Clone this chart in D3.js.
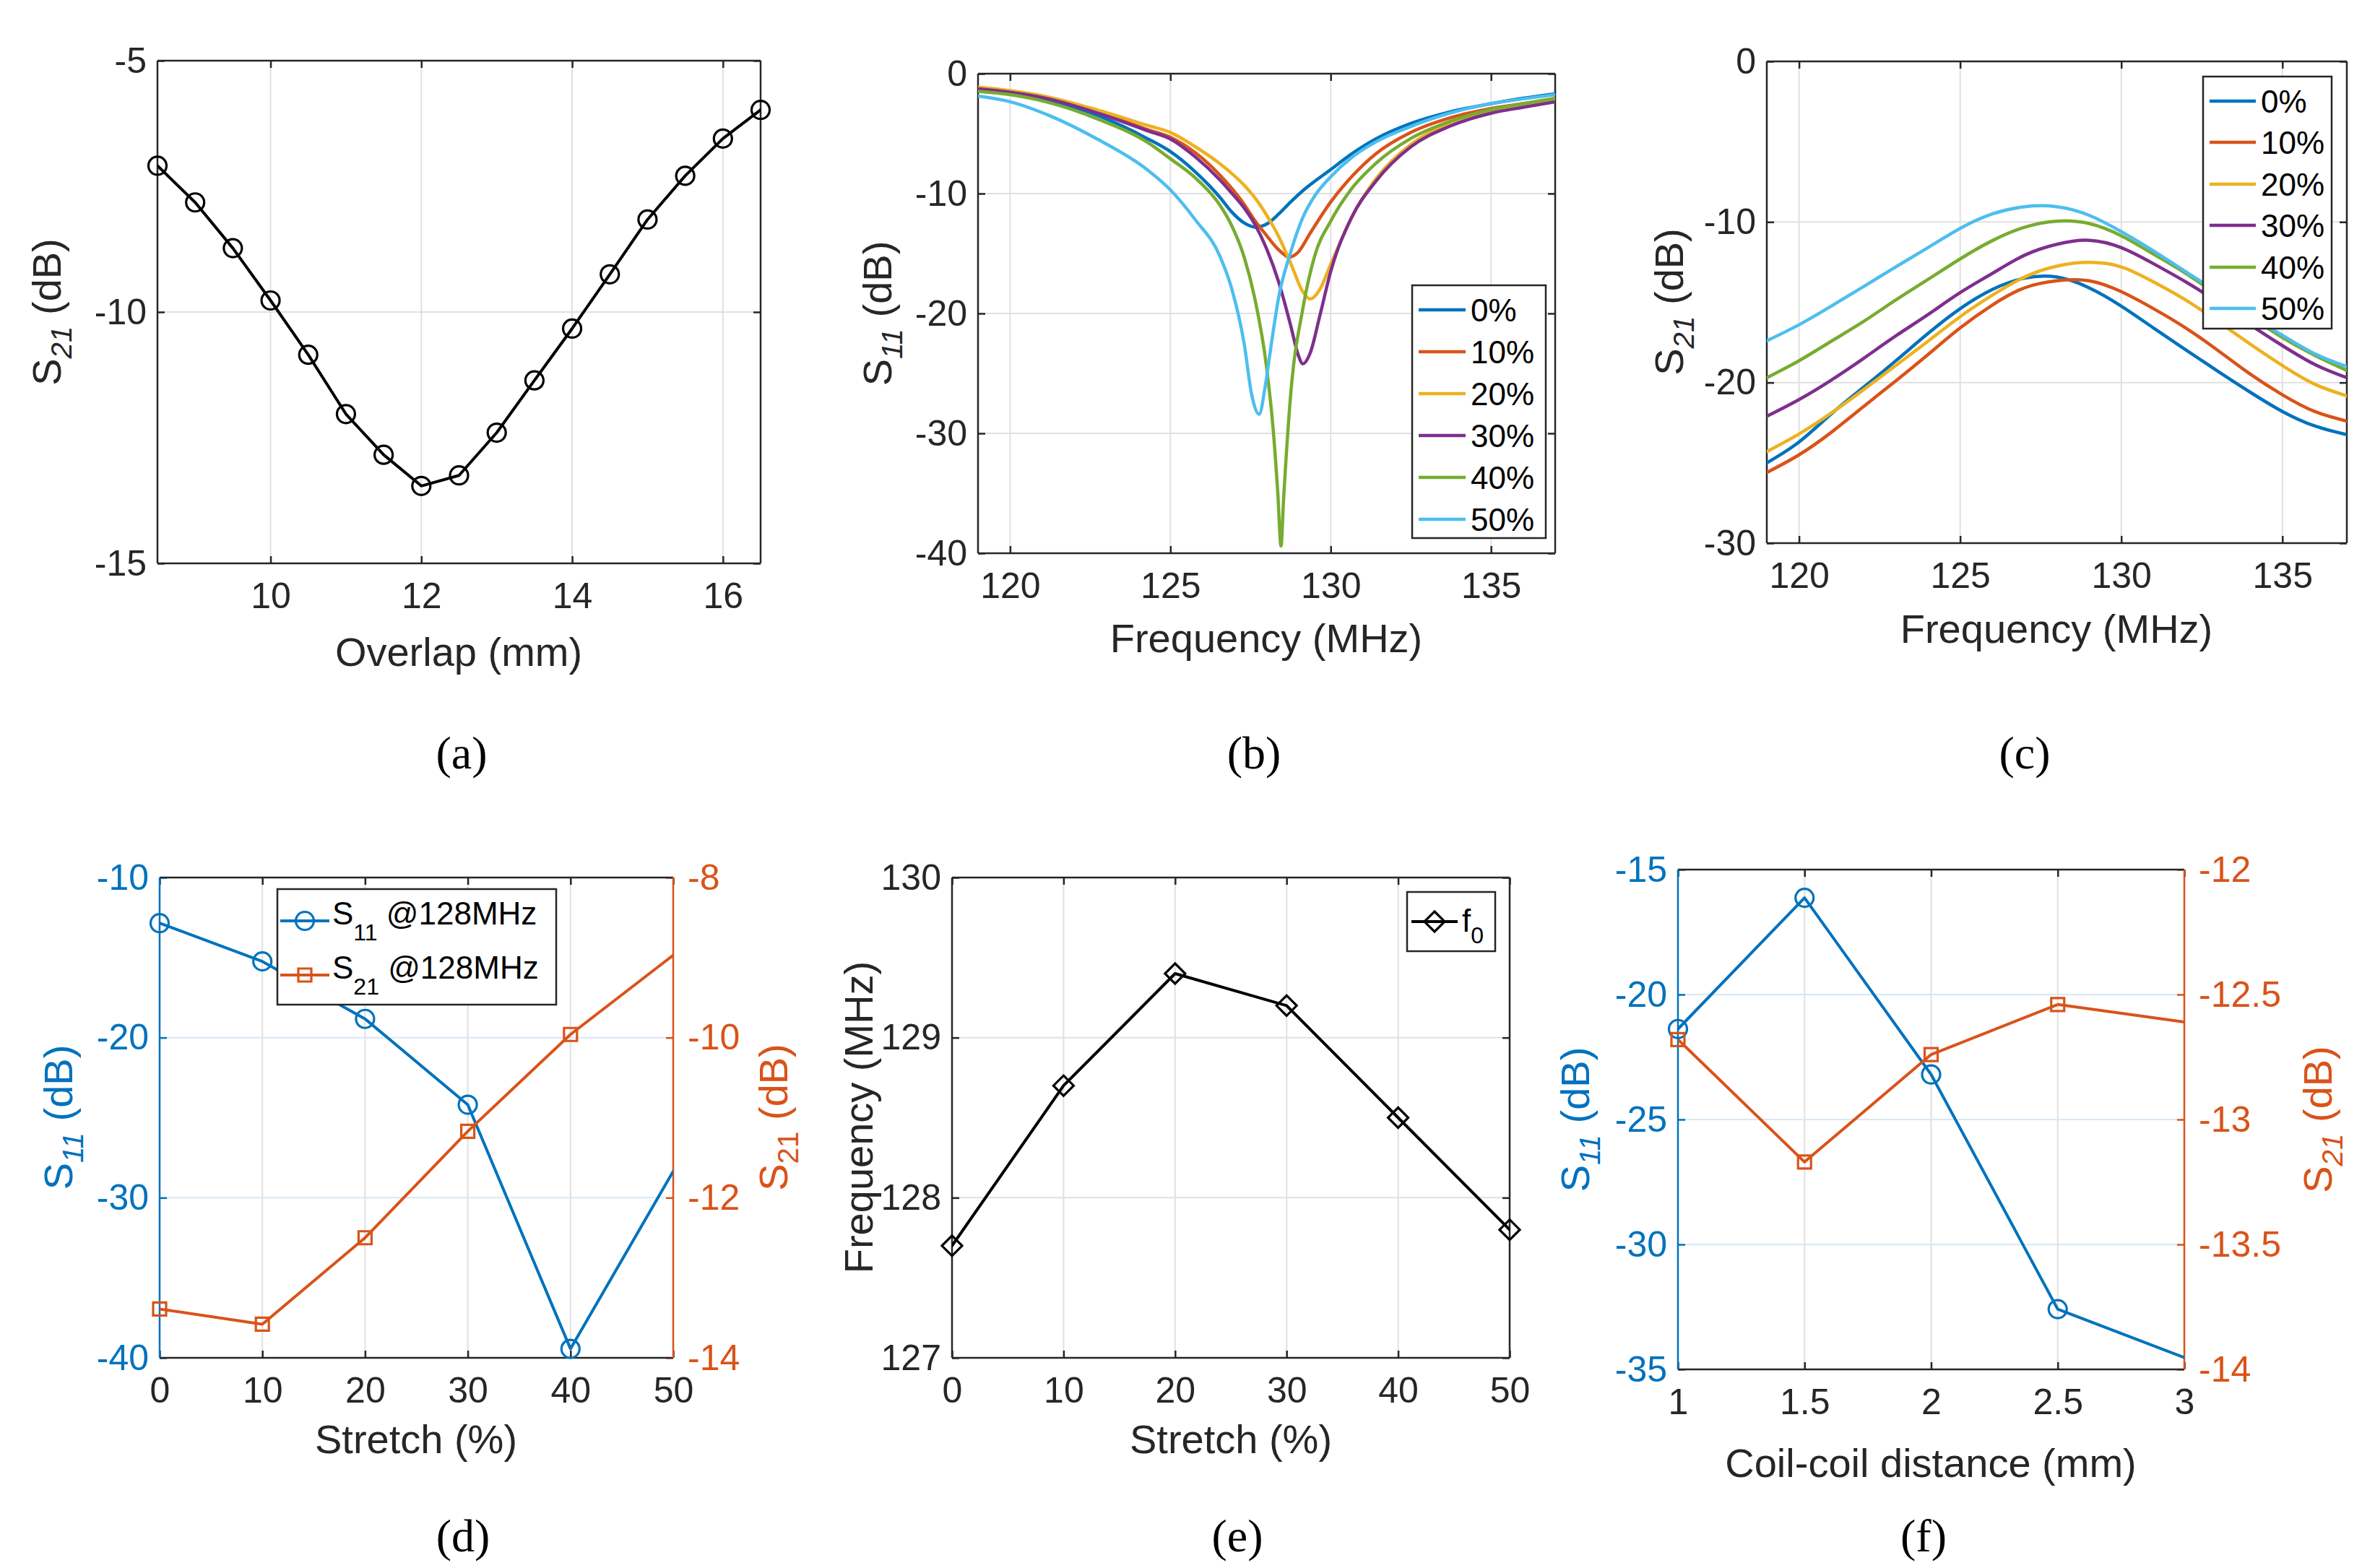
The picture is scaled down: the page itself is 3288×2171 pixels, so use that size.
<!DOCTYPE html>
<html><head><meta charset="utf-8">
<script src="https://cdn.jsdelivr.net/npm/d3@7"></script>
<style>html,body{margin:0;padding:0;background:#fff}svg{display:block}</style>
</head><body>
<svg id="chart" width="3288" height="2171" xmlns="http://www.w3.org/2000/svg"></svg>
<script>
// ================= DATA =================
// (a) S21 vs overlap
const overlapMm = [8.5, 9, 9.5, 10, 10.5, 11, 11.5, 12, 12.5, 13, 13.5, 14, 14.5, 15, 15.5, 16, 16.5];
const s21Overlap = [-7.09, -7.82, -8.73, -9.77, -10.85, -12.03, -12.84, -13.46, -13.25, -12.40, -11.36, -10.33, -9.25, -8.16, -7.29, -6.55, -5.98];

// shared legend labels / colours for (b), (c)
const stretchLabels = ["0%", "10%", "20%", "30%", "40%", "50%"];
const seriesColors = ["#0072BD", "#D95319", "#EDB120", "#7E2F8E", "#77AC30", "#4DBEEE"];

// (b) S11 vs frequency, one frequency list per stretch level
const s11Freq0  = [119, 120, 121.2, 122.75, 124.27, 125, 125.78, 126.54, 126.9, 127.3, 127.65, 128.0, 128.38, 128.75, 129.13, 130, 130.65, 131.4, 132.5, 133.7, 135, 136, 137];
const s11Val0   = [-1.26, -1.6, -2.2, -3.5, -5.4, -6.5, -8.2, -10.3, -11.5, -12.45, -12.8, -12.55, -11.7, -10.7, -9.76, -8.0, -6.7, -5.45, -4.15, -3.2, -2.5, -2.05, -1.68];
const s11Freq10 = [119, 120, 121.2, 122.75, 124.27, 125, 125.78, 126.54, 126.86, 127.3, 127.62, 128.0, 128.38, 128.7, 128.98, 129.36, 130, 130.65, 131.4, 132.5, 133.7, 135, 136, 137];
const s11Val10  = [-1.16, -1.45, -2.0, -3.2, -4.65, -5.3, -6.6, -8.45, -9.4, -10.9, -12.2, -13.5, -14.7, -15.3, -14.9, -13.3, -10.7, -8.6, -6.7, -4.9, -3.7, -2.9, -2.5, -2.13];
const s11Freq20 = [119, 120, 121.2, 122.75, 124.27, 125, 125.78, 126.54, 126.86, 127.3, 127.62, 128.0, 128.38, 128.75, 129.13, 129.36, 129.66, 130, 130.65, 131.4, 132.5, 133.7, 135, 136, 137];
const s11Val20  = [-1.13, -1.42, -1.95, -3.05, -4.3, -4.9, -6.1, -7.5, -8.2, -9.3, -10.3, -11.8, -13.6, -15.8, -18.2, -18.8, -18.0, -15.9, -12.0, -8.8, -5.9, -4.2, -3.2, -2.7, -2.26];
const s11Freq30 = [119, 120, 121.2, 122.75, 124.27, 125, 125.78, 126.54, 126.86, 127.3, 127.62, 128.0, 128.38, 128.75, 128.98, 129.13, 129.36, 129.66, 130, 130.65, 131.4, 132.5, 133.7, 135, 136, 137];
const s11Val30  = [-1.26, -1.55, -2.1, -3.3, -4.75, -5.45, -6.95, -8.85, -9.8, -11.2, -12.5, -14.6, -17.4, -21.0, -23.4, -24.2, -23.3, -20.2, -16.5, -12.0, -9.0, -6.1, -4.4, -3.3, -2.8, -2.34];
const s11Freq40 = [119, 120, 121.2, 122.75, 124.27, 125, 125.78, 126.54, 126.86, 127.3, 127.62, 128.0, 128.2, 128.35, 128.45, 128.53, 128.75, 129.13, 129.5, 130, 130.65, 131.4, 132.5, 133.7, 135, 136, 137];
const s11Val40  = [-1.47, -1.75, -2.4, -3.8, -5.7, -7.1, -8.7, -10.95, -12.4, -15.3, -18.6, -24.5, -29.5, -35.0, -39.4, -35.5, -26.8, -19.6, -15.2, -12.3, -9.6, -7.5, -5.4, -4.0, -3.0, -2.5, -2.05];
const s11Freq50 = [119, 120, 121.23, 122.75, 124.27, 125, 125.78, 126.54, 126.92, 127.3, 127.53, 127.77, 127.95, 128.15, 128.38, 128.75, 129.13, 129.5, 130, 130.65, 131.4, 132.5, 133.7, 135, 136, 137];
const s11Val50  = [-1.87, -2.34, -3.5, -5.5, -8.0, -9.7, -12.2, -15.2, -18.0, -22.5, -26.7, -28.4, -26.2, -22.5, -18.6, -14.9, -12.0, -10.2, -8.6, -7.0, -5.7, -4.4, -3.3, -2.5, -2.1, -1.74];

// (c) S21 vs frequency, shared frequency grid
const s21Freq   = [119, 120, 121, 122, 123, 124, 125, 126, 127, 128, 129, 130, 131, 132, 133, 134, 135, 136, 137];
const s21Val0   = [-25.0, -23.7, -21.95, -20.3, -18.65, -16.95, -15.4, -14.2, -13.5, -13.43, -14.1, -15.24, -16.6, -17.96, -19.3, -20.6, -21.8, -22.7, -23.25];
const s21Val10  = [-25.6, -24.5, -23.1, -21.5, -19.9, -18.26, -16.6, -15.17, -14.1, -13.66, -13.66, -14.34, -15.4, -16.6, -18.0, -19.47, -20.76, -21.8, -22.4];
const s21Val20  = [-24.3, -23.2, -21.9, -20.45, -18.94, -17.43, -15.9, -14.56, -13.43, -12.75, -12.52, -12.8, -13.73, -14.86, -16.2, -17.6, -18.94, -20.1, -20.83];
const s21Val30  = [-22.1, -21.06, -19.85, -18.5, -17.1, -15.77, -14.4, -13.2, -12.07, -11.39, -11.14, -11.6, -12.6, -13.73, -15.0, -16.4, -17.7, -18.87, -19.7];
const s21Val40  = [-19.7, -18.64, -17.43, -16.2, -14.86, -13.58, -12.3, -11.16, -10.33, -9.95, -10.1, -10.86, -12.0, -13.2, -14.56, -15.9, -17.2, -18.3, -19.25];
const s21Val50  = [-17.4, -16.4, -15.24, -14.03, -12.8, -11.6, -10.4, -9.5, -9.05, -9.05, -9.58, -10.6, -11.8, -13.1, -14.4, -15.8, -17.05, -18.2, -19.0];

// (d) S11 / S21 at 128 MHz vs stretch
const stretchPct = [0, 10, 20, 30, 40, 50];
const s11At128 = [-12.85, -15.24, -18.83, -24.19, -39.44, -28.35];
const s21At128 = [-13.39, -13.58, -12.5, -11.17, -9.96, -8.97];
const s11At128Markers = [0, 1, 2, 3, 4];
const s21At128Markers = [0, 1, 2, 3, 4];

// (e) resonance frequency vs stretch
const f0Stretch = [127.7, 128.7, 129.4, 129.2, 128.5, 127.8];

// (f) S11 / S21 vs coil-coil distance
const coilDist = [1, 1.5, 2, 2.5, 3];
const s11Dist = [-21.38, -16.13, -23.2, -32.59, -34.53];
const s21Dist = [-12.68, -13.17, -12.74, -12.54, -12.61];
const distMarkers = [0, 1, 2, 3];

// tick values
const ticksAX = [10, 12, 14, 16], ticksAY = [-15, -10, -5];
const ticksFreq = [120, 125, 130, 135];
const ticksBY = [-40, -30, -20, -10, 0], ticksCY = [-30, -20, -10, 0];
const ticksStretch = [0, 10, 20, 30, 40, 50];
const ticksDL = [-40, -30, -20, -10], ticksDR = [-14, -12, -10, -8];
const ticksEY = [127, 128, 129, 130];
const ticksFX = [1, 1.5, 2, 2.5, 3], ticksFL = [-35, -30, -25, -20, -15], ticksFR = [-14, -13.5, -13, -12.5, -12];

// ================= DRAWING =================
const svg = d3.select("#chart");
const FONT = "'Liberation Sans', Arial, Helvetica, sans-serif";
const SERIF = "'Liberation Serif', 'Times New Roman', serif";
const AX = "#262626", GRID = "#e0e0e0", GRIDB = "#d9e8f4";
const BLUE = "#0072BD", ORANGE = "#D95319";
const TICK = 10, TICKFS = 50, LABFS = 56, LEGFS = 44;
const fmt = d => String(d);

let clipId = 0;
function panel(cfg) {
  const {L, R, T, B} = cfg.box;
  const x = d3.scaleLinear().domain(cfg.xDomain).range([L, R]);
  const y = d3.scaleLinear().domain(cfg.yDomain).range([B, T]);
  const y2 = cfg.y2Domain ? d3.scaleLinear().domain(cfg.y2Domain).range([B, T]) : null;
  const g = svg.append("g");
  const id = "clip" + (clipId++);
  g.append("clipPath").attr("id", id).append("rect").attr("x", L).attr("y", T).attr("width", R - L).attr("height", B - T);

  g.append("g").selectAll("line").data(cfg.xTicks).join("line")
    .attr("x1", d => x(d)).attr("x2", d => x(d)).attr("y1", T).attr("y2", B)
    .attr("stroke", GRID).attr("stroke-width", 2);
  g.append("g").selectAll("line").data(cfg.yTicks).join("line")
    .attr("y1", d => y(d)).attr("y2", d => y(d)).attr("x1", L).attr("x2", R)
    .attr("stroke", y2 ? GRIDB : GRID).attr("stroke-width", 2);

  const styleAxis = (sel, color) => {
    sel.attr("font-size", TICKFS).attr("font-family", FONT).attr("color", color);
    sel.select(".domain").remove();
    sel.selectAll("line").attr("stroke-width", 2.5);
  };
  const yColor = cfg.yColor || AX;
  g.append("g").attr("transform", `translate(0,${B})`)
    .call(d3.axisBottom(x).tickValues(cfg.xTicks).tickSizeInner(-TICK).tickSizeOuter(0).tickPadding(26).tickFormat(fmt))
    .call(s => styleAxis(s, AX));
  g.append("g").attr("transform", `translate(0,${T})`)
    .call(d3.axisTop(x).tickValues(cfg.xTicks).tickSizeInner(-TICK).tickSizeOuter(0).tickFormat(""))
    .call(s => styleAxis(s, AX));
  g.append("g").attr("transform", `translate(${L},0)`)
    .call(d3.axisLeft(y).tickValues(cfg.yTicks).tickSizeInner(-TICK).tickSizeOuter(0).tickPadding(15).tickFormat(fmt))
    .call(s => styleAxis(s, yColor));
  if (y2) {
    g.append("g").attr("transform", `translate(${R},0)`)
      .call(d3.axisRight(y2).tickValues(cfg.y2Ticks).tickSizeInner(-TICK).tickSizeOuter(0).tickPadding(20).tickFormat(fmt))
      .call(s => styleAxis(s, ORANGE));
  } else {
    g.append("g").attr("transform", `translate(${R},0)`)
      .call(d3.axisRight(y).tickValues(cfg.yTicks).tickSizeInner(-TICK).tickSizeOuter(0).tickFormat(""))
      .call(s => styleAxis(s, AX));
  }
  const fr = g.append("g").attr("stroke-width", 2.5).attr("fill", "none");
  fr.append("line").attr("x1", L).attr("x2", R).attr("y1", T).attr("y2", T).attr("stroke", AX);
  fr.append("line").attr("x1", L).attr("x2", R).attr("y1", B).attr("y2", B).attr("stroke", AX);
  fr.append("line").attr("x1", L).attr("x2", L).attr("y1", T).attr("y2", B).attr("stroke", yColor);
  fr.append("line").attr("x1", R).attr("x2", R).attr("y1", T).attr("y2", B).attr("stroke", y2 ? ORANGE : AX);

  const plot = g.append("g").attr("clip-path", `url(#${id})`);
  const over = g.append("g");
  return {g, plot, over, x, y, y2, box: cfg.box};
}

function richText(sel, parts, fs) {
  let shift = 0;
  parts.forEach(p => {
    const target = p.sub ? fs * 0.26 : 0;
    sel.append("tspan").attr("dy", target - shift)
      .attr("font-size", p.sub ? fs * 0.72 : fs)
      .attr("font-style", p.italic ? "italic" : "normal").text(p.t);
    shift = target;
  });
}

function yLabel(x, yc, parts, color) {
  const t = svg.append("text").attr("transform", `translate(${x},${yc}) rotate(-90)`)
    .attr("text-anchor", "middle").attr("font-family", FONT).attr("font-size", LABFS)
    .attr("fill", color || AX);
  richText(t, parts, LABFS);
}
function xLabel(xc, y, txt) {
  svg.append("text").attr("x", xc).attr("y", y).attr("text-anchor", "middle")
    .attr("font-family", FONT).attr("font-size", LABFS).attr("fill", AX).text(txt);
}
function caption(xc, y, txt) {
  svg.append("text").attr("x", xc).attr("y", y).attr("text-anchor", "middle")
    .attr("font-family", SERIF).attr("font-size", 64).attr("fill", "#000").text(txt);
}
const S = sub => [{t: "S"}, {t: sub, sub: true, italic: true}, {t: " (dB)"}];

function drawLine(P, xs, ys, color, width, curve, ysc) {
  const yy = ysc || P.y;
  const pts = xs.map((v, i) => [v, ys[i]]);
  P.plot.append("path").datum(pts)
    .attr("d", d3.line().x(d => P.x(d[0])).y(d => yy(d[1])).curve(curve || d3.curveLinear))
    .attr("fill", "none").attr("stroke", color).attr("stroke-width", width)
    .attr("stroke-linejoin", "round").attr("stroke-linecap", "round");
}
function markerPath(shape) {
  if (shape === "circle") return d3.symbol().type(d3.symbolCircle).size(Math.PI * 12.5 * 12.5)();
  if (shape === "square") return "M-9,-9H9V9H-9Z";
  return "M0,-14L14,0L0,14L-14,0Z";
}
function drawMarkers(P, xs, ys, idx, shape, color, ysc) {
  const yy = ysc || P.y;
  P.over.append("g").selectAll("path").data(idx).join("path")
    .attr("transform", i => `translate(${P.x(xs[i])},${yy(ys[i])})`)
    .attr("d", markerPath(shape)).attr("fill", "none").attr("stroke", color).attr("stroke-width", 3.2);
}

function lineLegend(box, rowY, lineX0, lineX1, textX, labels, colors) {
  const g = svg.append("g");
  g.append("rect").attr("x", box[0]).attr("y", box[1]).attr("width", box[2] - box[0]).attr("height", box[3] - box[1])
    .attr("fill", "#fff").attr("stroke", AX).attr("stroke-width", 2.5);
  labels.forEach((lab, i) => {
    const yy = rowY[i];
    g.append("line").attr("x1", lineX0).attr("x2", lineX1).attr("y1", yy).attr("y2", yy)
      .attr("stroke", colors[i]).attr("stroke-width", 4.5);
    g.append("text").attr("x", textX).attr("y", yy + 16).attr("font-family", FONT)
      .attr("font-size", LEGFS).attr("fill", "#000").text(lab);
  });
}

// ---------- (a) ----------
{
  const P = panel({box: {L: 218, R: 1053, T: 84, B: 780}, xDomain: [8.5, 16.5], yDomain: [-15, -5],
    xTicks: ticksAX, yTicks: ticksAY});
  drawLine(P, overlapMm, s21Overlap, "#000", 4);
  drawMarkers(P, overlapMm, s21Overlap, d3.range(overlapMm.length), "circle", "#000");
  yLabel(84, 432, S("21"));
  xLabel(635, 922, "Overlap (mm)");
  caption(639, 1064, "(a)");
}

// ---------- (b) ----------
{
  const P = panel({box: {L: 1354, R: 2153, T: 102, B: 766}, xDomain: [119, 137], yDomain: [-40, 0],
    xTicks: ticksFreq, yTicks: ticksBY});
  const fr = [s11Freq0, s11Freq10, s11Freq20, s11Freq30, s11Freq40, s11Freq50];
  const vl = [s11Val0, s11Val10, s11Val20, s11Val30, s11Val40, s11Val50];
  fr.forEach((f, i) => drawLine(P, f, vl[i], seriesColors[i], 4.5, d3.curveMonotoneX));
  lineLegend([1955, 395, 2140, 745], [429, 487, 545, 603, 661, 719], 1964, 2029, 2036, stretchLabels, seriesColors);
  yLabel(1234, 434, S("11"));
  xLabel(1753, 903, "Frequency (MHz)");
  caption(1736, 1064, "(b)");
}

// ---------- (c) ----------
{
  const P = panel({box: {L: 2446, R: 3249, T: 85, B: 752}, xDomain: [119, 137], yDomain: [-30, 0],
    xTicks: ticksFreq, yTicks: ticksCY});
  const vl = [s21Val0, s21Val10, s21Val20, s21Val30, s21Val40, s21Val50];
  vl.forEach((v, i) => drawLine(P, s21Freq, v, seriesColors[i], 4.5, d3.curveNatural));
  lineLegend([3050, 106, 3228, 455], [140, 197, 255, 312, 370, 427], 3059, 3123, 3130, stretchLabels, seriesColors);
  yLabel(2330, 418, S("21"));
  xLabel(2847, 890, "Frequency (MHz)");
  caption(2803, 1064, "(c)");
}

// ---------- (d) ----------
{
  const P = panel({box: {L: 221, R: 932, T: 1215, B: 1880}, xDomain: [0, 50], yDomain: [-40, -10],
    xTicks: ticksStretch, yTicks: ticksDL, yColor: BLUE, y2Domain: [-14, -8], y2Ticks: ticksDR});
  drawLine(P, stretchPct, s11At128, BLUE, 4);
  drawLine(P, stretchPct, s21At128, ORANGE, 4, null, P.y2);
  drawMarkers(P, stretchPct, s11At128, s11At128Markers, "circle", BLUE);
  drawMarkers(P, stretchPct, s21At128, s21At128Markers, "square", ORANGE, P.y2);
  const g = svg.append("g");
  g.append("rect").attr("x", 384).attr("y", 1231).attr("width", 386).attr("height", 160)
    .attr("fill", "#fff").attr("stroke", AX).attr("stroke-width", 2.5);
  const rows = [{y: 1275, c: BLUE, sub: "11", m: "circle"}, {y: 1350, c: ORANGE, sub: "21", m: "square"}];
  rows.forEach(r => {
    g.append("line").attr("x1", 388).attr("x2", 456).attr("y1", r.y).attr("y2", r.y).attr("stroke", r.c).attr("stroke-width", 4);
    g.append("path").attr("transform", `translate(422,${r.y})`).attr("d", markerPath(r.m))
      .attr("fill", "none").attr("stroke", r.c).attr("stroke-width", 3.2);
    const t = g.append("text").attr("x", 460).attr("y", r.y + 5).attr("font-family", FONT).attr("fill", "#000");
    t.append("tspan").attr("font-size", LEGFS).text("S");
    t.append("tspan").attr("font-size", 32).attr("dy", 22).text(r.sub);
    t.append("tspan").attr("font-size", LEGFS).attr("dy", -22).text(" @128MHz");
  });
  yLabel(100, 1547, S("11"), BLUE);
  yLabel(1090, 1547, [{t: "S"}, {t: "21", sub: true}, {t: " (dB)"}], ORANGE);
  xLabel(576, 2012, "Stretch (%)");
  caption(641, 2148, "(d)");
}

// ---------- (e) ----------
{
  const P = panel({box: {L: 1318, R: 2090, T: 1215, B: 1880}, xDomain: [0, 50], yDomain: [127, 130],
    xTicks: ticksStretch, yTicks: ticksEY});
  drawLine(P, stretchPct, f0Stretch, "#000", 4);
  drawMarkers(P, stretchPct, f0Stretch, d3.range(stretchPct.length), "diamond", "#000");
  const g = svg.append("g");
  g.append("rect").attr("x", 1948).attr("y", 1235).attr("width", 122).attr("height", 82)
    .attr("fill", "#fff").attr("stroke", AX).attr("stroke-width", 2.5);
  g.append("line").attr("x1", 1954).attr("x2", 2018).attr("y1", 1276).attr("y2", 1276).attr("stroke", "#000").attr("stroke-width", 4);
  g.append("path").attr("transform", "translate(1986,1276)").attr("d", markerPath("diamond"))
    .attr("fill", "none").attr("stroke", "#000").attr("stroke-width", 3.2);
  const t = g.append("text").attr("x", 2024).attr("y", 1290).attr("font-family", FONT).attr("fill", "#000");
  t.append("tspan").attr("font-size", LEGFS).text("f");
  t.append("tspan").attr("font-size", 32).attr("dy", 16).text("0");
  yLabel(1208, 1547, [{t: "Frequency (MHz)"}]);
  xLabel(1704, 2012, "Stretch (%)");
  caption(1713, 2148, "(e)");
}

// ---------- (f) ----------
{
  const P = panel({box: {L: 2323, R: 3024, T: 1204, B: 1896}, xDomain: [1, 3], yDomain: [-35, -15],
    xTicks: ticksFX, yTicks: ticksFL, yColor: BLUE, y2Domain: [-14, -12], y2Ticks: ticksFR});
  drawLine(P, coilDist, s11Dist, BLUE, 4);
  drawLine(P, coilDist, s21Dist, ORANGE, 4, null, P.y2);
  drawMarkers(P, coilDist, s11Dist, distMarkers, "circle", BLUE);
  drawMarkers(P, coilDist, s21Dist, distMarkers, "square", ORANGE, P.y2);
  yLabel(2200, 1550, S("11"), BLUE);
  yLabel(3228, 1550, S("21"), ORANGE);
  xLabel(2673, 2045, "Coil-coil distance (mm)");
  caption(2663, 2148, "(f)");
}
</script>
</body></html>
